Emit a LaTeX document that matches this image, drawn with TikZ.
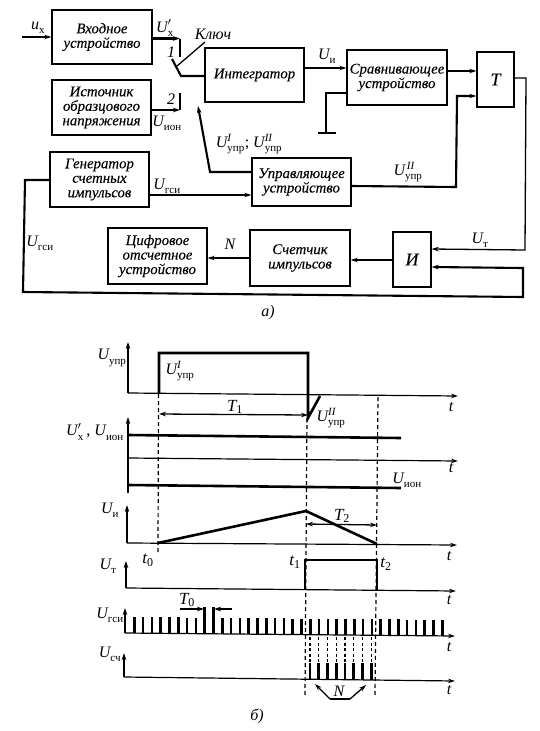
\documentclass[tikz,border=0pt]{standalone}
\usepackage{fontspec}
\setmainfont{Liberation Serif}
\usetikzlibrary{arrows.meta}
\newcommand{\Ulab}[3][U]{$\mbox{\fontsize{16}{16}\selectfont\itshape #1}_{\mbox{\fontsize{11}{11}\selectfont #2}}^{\mbox{\fontsize{11}{11}\selectfont\itshape #3}}$}
\newcommand{\Tlab}[2][T]{$\mbox{\fontsize{17}{17}\selectfont\itshape #1}_{\mbox{\fontsize{12}{12}\selectfont #2}}$}
\tikzset{
  blk/.style={draw=black,line width=1.3pt,inner sep=0pt,align=center,
    font=\fontsize{14.8}{14.5}\selectfont\itshape\addfontfeature{FakeBold=0.1}},
  lab/.style={inner sep=0pt,font=\fontsize{16}{16}\selectfont},
  thin wire/.style={draw=black,line width=1.3pt},
  thick wire/.style={draw=black,line width=2.1pt},
  tip/.style={-{Stealth[length=7pt,width=4.5pt]}},
  tips/.style={{Stealth[length=7pt,width=4.5pt]}-{Stealth[length=7pt,width=4.5pt]}},
  axis/.style={draw=black,line width=1.2pt,-{Stealth[length=7pt,width=4.5pt]}},
  sig/.style={draw=black,line width=2.6pt,line join=miter},
  guide/.style={draw=black,line width=1.2pt,dashed,dash pattern=on 4pt off 3pt},
}
\begin{document}
\begin{tikzpicture}[x=1pt,y=-1pt]
\useasboundingbox (0,0) rectangle (539,731);
\fill[white] (0,0) rectangle (539,731);
% ---------- a) blocks
\node[blk,minimum width=100pt,minimum height=54pt] (inp) at (102,37) {Входное\\устройство};
\node[blk,minimum width=99pt,minimum height=55pt] (src) at (101.5,107.5) {Источник\\образцового\\напряжения};
\node[blk,minimum width=99pt,minimum height=55pt] (gen) at (99.5,179.5) {Генератор\\счетных\\импульсов};
\node[blk,minimum width=99pt,minimum height=54pt] (int) at (254.5,75) {Интегратор};
\node[blk,minimum width=100pt,minimum height=55pt] (cmp) at (397,77.5) {Сравнивающее\\устройство};
\node[blk,minimum width=37pt,minimum height=55pt] (trg) at (495.5,79.5) {\fontsize{18}{18}\selectfont T};
\node[blk,minimum width=99pt,minimum height=48pt] (ctl) at (301.5,182) {Управляющее\\устройство};
\node[blk,minimum width=99pt,minimum height=56pt] (dsp) at (157.5,256) {Цифровое\\отсчетное\\устройство};
\node[blk,minimum width=100pt,minimum height=56pt] (cnt) at (300,258) {Счетчик\\импульсов};
\node[blk,minimum width=38pt,minimum height=55pt] (and) at (412,259.5) {\fontsize{18}{18}\selectfont И};
% free ends
\coordinate (in0) at (22,37);
\coordinate (k1a) at (180,38.5);
\coordinate (k1b) at (180,57);
\coordinate (k2a) at (180,110);
\coordinate (k2b) at (180,93);
\coordinate (sw0) at (172,59);
\coordinate (sw1) at (181,76);
\coordinate (key0) at (177,66);
\coordinate (key1) at (205,42);
\coordinate (fb0) at (210,172);
\coordinate (fb1) at (198,106);
\coordinate (gnd0) at (326,93);
\coordinate (gnd1) at (326,133);
\coordinate (gndL) at (318,133);
\coordinate (gndR) at (336,133);
% wires
\draw[thick wire,tip] (in0) -- (inp.west |- in0);
\draw[thick wire,tip] (inp.east |- k1a) -- (k1a);
\draw[thick wire] (k1a) -- (k1b);
\draw[thick wire,tip] (src.east |- k2a) -- (k2a);
\draw[thick wire] (k2a) -- (k2b);
\draw[thick wire] (sw0) -- (sw1) -- (int.west |- sw1);
\draw[thin wire] (key0) -- (key1);
\draw[thick wire,tip] (ctl.west |- fb0) -- (fb0) -- (fb1);
\draw[thick wire,tip] (int.east |- 0,68) -- (cmp.west |- 0,68);
\draw[thick wire,tip] (cmp.east |- 0,71) -- (trg.west |- 0,71);
\draw[thick wire] (cmp.west |- gnd0) -- (gnd0) -- (gnd1);
\draw[thick wire] (gndL) -- (gndR);
\draw[thick wire,tip] (ctl.east |- 0,186) -- (456,187) -- (457,96) -- (trg.west |- 0,96);
\draw[thin wire,tip] (trg.east |- 0,78) -- (526,78) -- (525,250) -- (and.east |- 0,249);
\draw[thick wire,tip] (gen.west |- 0,180) -- (25,180) -- (23,292) -- (523,297) -- (523,268) -- (and.east |- 0,267);
\draw[thick wire,tip] (gen.east |- 0,195) -- (ctl.west |- 0,195);
\draw[thick wire,tip] (and.west |- 0,260) -- (cnt.east |- 0,260);
\draw[thick wire,tip] (cnt.west |- 0,258) -- (dsp.east |- 0,258);
% a) labels
\node[lab] (lux) at (38,28) {\Ulab[u]{х}{}};
\node[lab] (lupx) at (165,28) {\Ulab{х}{$\prime$}};
\node[lab] (lkey) at (213,34) {\itshape Ключ};
\node[lab] (l1) at (171,52) {\itshape 1};
\node[lab] (l2) at (171,99) {\itshape 2};
\node[lab] (luion) at (167,123) {\Ulab{ион}{}};
\node[lab] (lfb) at (249,144) {\Ulab{упр}{I}; \Ulab{упр}{II}};
\node[lab] (lui) at (327,56) {\Ulab{и}{}};
\node[lab] (lu2) at (408,172) {\Ulab{упр}{\,II}};
\node[lab] (lg1) at (167,186) {\Ulab{гси}{}};
\node[lab] (lg2) at (40,243) {\Ulab{гси}{}};
\node[lab] (lN) at (230,244) {\itshape N};
\node[lab] (lUt) at (480,240) {\Ulab{т}{}};
\node[lab] (la) at (268,313) {\itshape а)};
% ---------- б) axis 1
\draw[axis] (128,393) -- (128,342);
\draw[axis] (128,393) -- (458,396);
\draw[sig] (159,393) -- (159,353) -- (308,353) -- (308,418) -- (320,396);
\draw[guide] (158.5,394) -- (158,552);
\draw[guide] (307,418) -- (305,695);
\draw[guide] (378,397) -- (375,695);
\draw[thin wire,tips] (159,414) -- (308,415);
\node[lab] (lT1) at (235,407) {\Tlab{1}};
\node[lab] (lU1) at (112,358) {\Ulab{упр}{}};
\node[lab] (lU2) at (180,371) {\Ulab{упр}{I}};
\node[lab] (lU3) at (331,418) {\Ulab{упр}{II}};
\node[lab] (lt1) at (451,407) {\itshape t};
% axis 2
\draw[axis] (128,493) -- (128,417);
\draw[axis] (128,458) -- (458,461);
\draw[sig] (128,435) -- (401,438);
\draw[sig] (128,485) -- (401,488);
\node[lab] (lU4) at (95,432) {\Ulab{х}{$\prime$}\,, \Ulab{ион}{}};
\node[lab] (lU5) at (407,480) {\Ulab{ион}{}};
\node[lab] (lt2) at (451,468) {\itshape t};
% axis 3
\draw[axis] (127,543) -- (127,505);
\draw[axis] (127,543) -- (457,545);
\draw[sig] (158,543) -- (306,511) -- (377,544);
\draw[thin wire,tips] (306,524) -- (377,525);
\node[lab] (lT2) at (342,516) {\Tlab{2}};
\node[lab] (lU6) at (110,510) {\Ulab{и}{}};
\node[lab] (lt0) at (148,560) {\Tlab[t]{0}};
\node[lab] (lt3) at (449,556) {\itshape t};
% axis 4
\draw[axis] (126,588) -- (126,561);
\draw[axis] (126,588) -- (456,591);
\draw[sig] (305,589) -- (305,560) -- (377,560) -- (377,590);
\node[lab] (lU7) at (108,566) {\Ulab{т}{}};
\node[lab] (lt4) at (295,562) {\Tlab[t]{1}};
\node[lab] (lt5) at (386,564) {\Tlab[t]{2}};
\node[lab] (lt6) at (449,600) {\itshape t};
% axis 5
\draw[axis] (125,633) -- (125,608);
\draw[axis] (125,633) -- (455,636);
\foreach \i in {0,...,35}{
  \pgfmathsetmacro{\px}{134.3+8.8*\i}
  \pgfmathsetmacro{\pb}{633+(\px-125)*3/330}
  \ifnum\i=8 \pgfmathsetmacro{\pt}{607}\else\ifnum\i=9 \pgfmathsetmacro{\pt}{607}\else\pgfmathsetmacro{\pt}{\pb-16}\fi\fi
  \draw[black,line width=2.6pt] (\px,\pb) -- (\px,\pt);
}
\draw[thin wire,tip] (180,609) -- (204,609);
\draw[thin wire,tip] (232,609) -- (214,609);
\node[lab] (lT0) at (187,600) {\Tlab{0}};
\node[lab] (lU8) at (110,615) {\Ulab{гси}{}};
\node[lab] (lt7) at (449,647) {\itshape t};
% axis 6
\draw[axis] (124,677) -- (124,653);
\draw[axis] (124,677) -- (455,681);
\foreach \i in {0,...,7}{
  \pgfmathsetmacro{\px}{310+8.75*\i}
  \draw[black,line width=1.1pt,dashed,dash pattern=on 3pt off 2.5pt] (\px,637) -- (\px,663);
  \draw[black,line width=2.6pt] (\px,663) -- (\px,680);
}
\coordinate (n0) at (330,699);
\coordinate (n1) at (350,699);
\draw[thin wire,tip] (n0) -- (315,684);
\draw[thin wire,tip] (n1) -- (366,685);
\draw[thin wire] (n0) -- (n1);
\node[lab] (lN2) at (339,691) {\itshape N};
\node[lab] (lU9) at (110,654) {\Ulab{сч}{}};
\node[lab] (lt8) at (449,690) {\itshape t};
\node[lab] (lb) at (257,716) {\itshape б)};
\end{tikzpicture}
\end{document}
